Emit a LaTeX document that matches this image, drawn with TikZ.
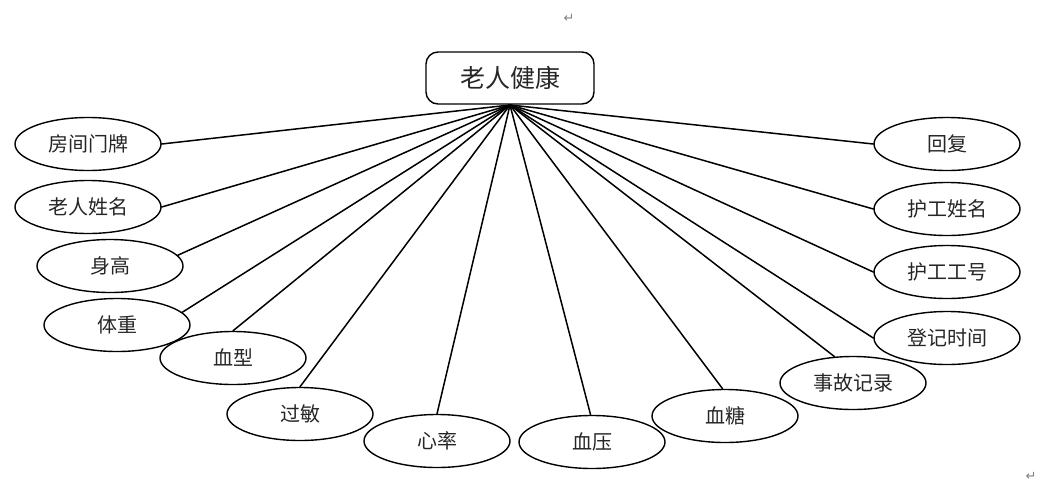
\documentclass[tikz,border=0pt]{standalone}
\usepackage{fontspec}
\setmainfont{Noto Sans CJK SC}
\newfontfamily\symfont{DejaVu Sans}
\usetikzlibrary{shapes.geometric}
\begin{document}
\begin{tikzpicture}[x=1pt,y=-1pt,line join=round,line cap=round,line width=1.5pt]
 \tikzset{attr/.style={draw,ellipse,fill=white,line width=1.4pt,minimum width=146pt,minimum height=53pt,inner sep=0pt,text=black!85,font=\fontsize{20}{20}\selectfont},
  entity/.style={draw,rounded corners=12pt,fill=white,line width=1.4pt,minimum width=168pt,minimum height=52pt,text=black!85,font=\fontsize{25}{25}\selectfont},
  pmark/.style={text=gray,font=\symfont\fontsize{13}{13}\selectfont}}
 \useasboundingbox (0,0) rectangle (1062,491);
 \node[pmark] (m1) at (569,18) {↵};
 \node[pmark] (m2) at (1031,476) {↵};
 % attributes
 \node[attr] (fj) at (88,144) {房间门牌};
 \node[attr] (xm) at (88,207) {老人姓名};
 \node[attr] (sg) at (110,266) {身高};
 \node[attr] (tz) at (117,325) {体重};
 \node[attr] (xx) at (233,358) {血型};
 \node[attr] (gm) at (300,414) {过敏};
 \node[attr] (xl) at (437,441) {心率};
 \node[attr] (xy) at (592,442) {血压};
 \node[attr] (xt) at (725,416) {血糖};
 \node[attr] (sj) at (853,383) {事故记录};
 \node[attr] (dj) at (947,338) {登记时间};
 \node[attr] (gh) at (947,272) {护工工号};
 \node[attr] (hg) at (947,209) {护工姓名};
 \node[attr] (hf) at (947,144) {回复};
 \node[entity] (jk) at (510,78) {老人健康};
 \coordinate (o) at (510,105);
 % connectors
 \foreach \n in {fj.east,xm.east,sg.9,tz.11,xx.north,gm.north,xl.north,xy.93,xt.95,sj.125,dj.west,gh.west,hg.west,hf.west}
  \draw (o) -- (\n);
\end{tikzpicture}
\end{document}
